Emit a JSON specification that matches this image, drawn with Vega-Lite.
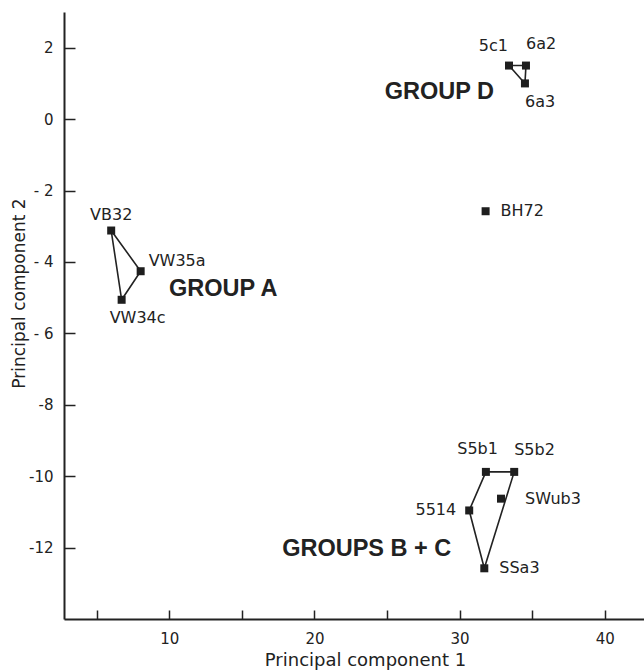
{
  "$schema": "https://vega.github.io/schema/vega-lite/v6.json",
  "autosize": {"type": "none"},
  "padding": {"left": 64, "top": 12, "right": 0, "bottom": 53},
  "width": 580,
  "height": 607,
  "background": "white",
  "config": {"view": {"stroke": null}, "font": "DejaVu Sans"},
  "datasets": {
    "pts": [
      {"id": "VB32", "group": "A", "ord": 1, "pc1": 6.0, "pc2": -3.12},
      {"id": "VW35a", "group": "A", "ord": 2, "pc1": 8.03, "pc2": -4.26},
      {"id": "VW34c", "group": "A", "ord": 3, "pc1": 6.72, "pc2": -5.06},
      {"id": "5c1", "group": "D", "ord": 1, "pc1": 33.4, "pc2": 1.5},
      {"id": "6a2", "group": "D", "ord": 2, "pc1": 34.57, "pc2": 1.5},
      {"id": "6a3", "group": "D", "ord": 3, "pc1": 34.5, "pc2": 1.0},
      {"id": "BH72", "group": "none", "ord": 1, "pc1": 31.79, "pc2": -2.58},
      {"id": "S5b1", "group": "BC", "ord": 1, "pc1": 31.81, "pc2": -9.88},
      {"id": "S5b2", "group": "BC", "ord": 2, "pc1": 33.76, "pc2": -9.88},
      {"id": "SSa3", "group": "BC", "ord": 3, "pc1": 31.7, "pc2": -12.58},
      {"id": "5514", "group": "BC", "ord": 4, "pc1": 30.66, "pc2": -10.96},
      {"id": "SWub3", "group": "none", "ord": 2, "pc1": 32.85, "pc2": -10.63}
    ],
    "hull": [
      {"group": "A", "ord": 1, "pc1": 6.0, "pc2": -3.12},
      {"group": "A", "ord": 2, "pc1": 8.03, "pc2": -4.26},
      {"group": "A", "ord": 3, "pc1": 6.72, "pc2": -5.06},
      {"group": "A", "ord": 4, "pc1": 6.0, "pc2": -3.12},
      {"group": "D", "ord": 1, "pc1": 33.4, "pc2": 1.5},
      {"group": "D", "ord": 2, "pc1": 34.57, "pc2": 1.5},
      {"group": "D", "ord": 3, "pc1": 34.5, "pc2": 1.0},
      {"group": "D", "ord": 4, "pc1": 33.4, "pc2": 1.5},
      {"group": "BC", "ord": 1, "pc1": 31.81, "pc2": -9.88},
      {"group": "BC", "ord": 2, "pc1": 33.76, "pc2": -9.88},
      {"group": "BC", "ord": 3, "pc1": 31.7, "pc2": -12.58},
      {"group": "BC", "ord": 4, "pc1": 30.66, "pc2": -10.96},
      {"group": "BC", "ord": 5, "pc1": 31.81, "pc2": -9.88}
    ],
    "groups": [
      {"name": "GROUP A", "pc1": 13.72, "pc2": -4.76},
      {"name": "GROUP D", "pc1": 28.6, "pc2": 0.77},
      {"name": "GROUPS B + C", "pc1": 23.6, "pc2": -12.04}
    ]
  },
  "encoding": {
    "x": {
      "field": "pc1", "type": "quantitative",
      "scale": {"domain": [2.75, 42.7], "nice": false, "zero": false},
      "axis": {
        "title": "Principal component 1",
        "values": [5, 10, 15, 20, 25, 30, 35, 40],
        "labelExpr": "datum.value % 10 === 0 ? '' + datum.value : ''",
        "grid": false,
        "domainColor": "#222", "domainWidth": 2,
        "tickColor": "#222", "tickWidth": 1.5, "tickSize": -9,
        "labelPadding": 21, "labelFont": "DejaVu Sans", "labelFontSize": 15, "labelColor": "#222",
        "labelBaseline": "top", "labelFlush": false, "labelOverlap": false,
        "titleFont": "DejaVu Sans", "titleFontSize": 18, "titleFontWeight": "normal", "titleColor": "#222",
        "titleX": 301, "titleY": 41, "titleBaseline": "middle", "titleAnchor": null, "titleAlign": "center"
      }
    },
    "y": {
      "field": "pc2", "type": "quantitative",
      "scale": {"domain": [-14, 3], "nice": false, "zero": false},
      "axis": {
        "title": "Principal component 2",
        "values": [2, 0, -2, -4, -6, -8, -10, -12],
        "labelExpr": "datum.value < 0 ? (datum.value > -8 ? '- ' : '-') + abs(datum.value) : '' + datum.value",
        "grid": false,
        "domainColor": "#222", "domainWidth": 2,
        "tickColor": "#222", "tickWidth": 1.5, "tickSize": -11,
        "labelPadding": 22, "labelFont": "DejaVu Sans", "labelFontSize": 15, "labelColor": "#222",
        "labelDy": 5, "labelFlush": false, "labelOverlap": false,
        "titleFont": "DejaVu Sans", "titleFontSize": 17, "titleFontWeight": "normal", "titleColor": "#222",
        "titleX": -45, "titleY": 281, "titleAngle": 270, "titleBaseline": "middle", "titleAlign": "center"
      }
    }
  },
  "layer": [
    {
      "data": {"name": "hull"},
      "mark": {"type": "line", "color": "#222", "strokeWidth": 1.6},
      "encoding": {"detail": {"field": "group"}, "order": {"field": "ord", "type": "quantitative"}}
    },
    {
      "data": {"name": "pts"},
      "mark": {"type": "square", "filled": true, "color": "#1e1e1e", "size": 64, "opacity": 1},
      "encoding": {}
    },
    {
      "data": {"name": "pts"},
      "transform": [{"filter": {"field": "id", "oneOf": ["VB32"]}}],
      "mark": {"type": "text", "align": "center", "baseline": "middle", "dy": -16, "fontSize": 16, "color": "#222"},
      "encoding": {"text": {"field": "id"}}
    },
    {
      "data": {"name": "pts"},
      "transform": [{"filter": {"field": "id", "oneOf": ["BH72", "SSa3"]}}],
      "mark": {"type": "text", "align": "left", "baseline": "middle", "dx": 15, "fontSize": 16, "color": "#222"},
      "encoding": {"text": {"field": "id"}}
    },
    {
      "data": {"name": "pts"},
      "transform": [{"filter": {"field": "id", "oneOf": ["SWub3"]}}],
      "mark": {"type": "text", "align": "left", "baseline": "middle", "dx": 24, "fontSize": 16, "color": "#222"},
      "encoding": {"text": {"field": "id"}}
    },
    {
      "data": {"name": "pts"},
      "transform": [{"filter": {"field": "id", "oneOf": ["VW35a"]}}],
      "mark": {"type": "text", "align": "left", "baseline": "middle", "dx": 8, "dy": -10, "fontSize": 16, "color": "#222"},
      "encoding": {"text": {"field": "id"}}
    },
    {
      "data": {"name": "pts"},
      "transform": [{"filter": {"field": "id", "oneOf": ["VW34c"]}}],
      "mark": {"type": "text", "align": "left", "baseline": "middle", "dx": -12, "dy": 18, "fontSize": 16, "color": "#222"},
      "encoding": {"text": {"field": "id"}}
    },
    {
      "data": {"name": "pts"},
      "transform": [{"filter": {"field": "id", "oneOf": ["5c1"]}}],
      "mark": {"type": "text", "align": "right", "baseline": "middle", "dx": -1, "dy": -20, "fontSize": 16, "color": "#222"},
      "encoding": {"text": {"field": "id"}}
    },
    {
      "data": {"name": "pts"},
      "transform": [{"filter": {"field": "id", "oneOf": ["S5b1"]}}],
      "mark": {"type": "text", "align": "right", "baseline": "middle", "dx": 12, "dy": -23, "fontSize": 16, "color": "#222"},
      "encoding": {"text": {"field": "id"}}
    },
    {
      "data": {"name": "pts"},
      "transform": [{"filter": {"field": "id", "oneOf": ["6a2", "S5b2"]}}],
      "mark": {"type": "text", "align": "left", "baseline": "middle", "dx": 0, "dy": -22, "fontSize": 16, "color": "#222"},
      "encoding": {"text": {"field": "id"}}
    },
    {
      "data": {"name": "pts"},
      "transform": [{"filter": {"field": "id", "oneOf": ["6a3"]}}],
      "mark": {"type": "text", "align": "left", "baseline": "middle", "dx": 0, "dy": 19, "fontSize": 16, "color": "#222"},
      "encoding": {"text": {"field": "id"}}
    },
    {
      "data": {"name": "pts"},
      "transform": [{"filter": {"field": "id", "oneOf": ["5514"]}}],
      "mark": {"type": "text", "align": "right", "baseline": "middle", "dx": -13, "fontSize": 16, "color": "#222"},
      "encoding": {"text": {"field": "id"}}
    },
    {
      "data": {"name": "groups"},
      "mark": {"type": "text", "align": "center", "baseline": "middle", "font": "Liberation Sans", "fontWeight": "bold", "fontSize": 23.5, "color": "#222"},
      "encoding": {"text": {"field": "name"}}
    }
  ]
}
